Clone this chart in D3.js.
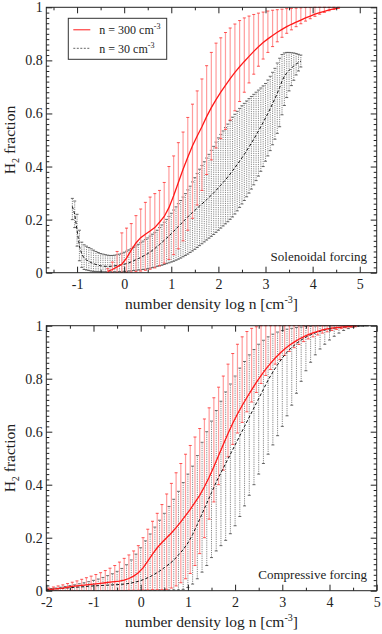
<!DOCTYPE html>
<html>
<head>
<meta charset="utf-8">
<script src="https://cdn.jsdelivr.net/npm/d3@7"></script>
<style>
  body { margin: 0; background: #fff; }
  svg { display: block; }
  text { font-family: 'Liberation Serif', 'Times New Roman', serif; fill: #222; }
</style>
</head>
<body>
<svg id="chart" width="382" height="634"></svg>
<script>
// ---- Solenoidal forcing, n = 300 cm^-3 (bins of 0.1 dex from -0.35) ----
const solLogN300 = d3.range(50).map(i => -0.35 + i * 0.1)
const solMean300 = [
  0.005, 0.012, 0.022, 0.032, 0.055, 0.085, 0.112, 0.132, 0.145, 0.157,
  0.170, 0.190, 0.212, 0.245, 0.290, 0.340, 0.390, 0.435, 0.478, 0.515,
  0.550, 0.588, 0.622, 0.652, 0.680, 0.706, 0.731, 0.755, 0.776, 0.796,
  0.815, 0.834, 0.851, 0.867, 0.881, 0.894, 0.906, 0.917, 0.927, 0.936,
  0.944, 0.952, 0.960, 0.967, 0.974, 0.980, 0.985, 0.990, 0.994, 0.997
]
const solLo300 = [
  0.000, 0.000, 0.000, 0.000, 0.001, 0.002, 0.004, 0.006, 0.009, 0.013,
  0.018, 0.026, 0.036, 0.050, 0.068, 0.090, 0.120, 0.160, 0.205, 0.255,
  0.310, 0.370, 0.425, 0.470, 0.505, 0.540, 0.575, 0.610, 0.645, 0.680,
  0.715, 0.748, 0.778, 0.805, 0.830, 0.852, 0.870, 0.887, 0.902, 0.915,
  0.927, 0.938, 0.948, 0.957, 0.966, 0.974, 0.981, 0.987, 0.992, 0.996
]
const solHi300 = [
  0.015, 0.040, 0.080, 0.150, 0.168, 0.185, 0.215, 0.240, 0.265, 0.285,
  0.298, 0.310, 0.340, 0.400, 0.440, 0.490, 0.530, 0.585, 0.635, 0.685,
  0.730, 0.780, 0.830, 0.865, 0.885, 0.905, 0.922, 0.937, 0.950, 0.960,
  0.967, 0.973, 0.978, 0.982, 0.986, 0.989, 0.991, 0.993, 0.995, 0.996,
  0.997, 0.998, 0.999, 0.999, 1.000, 1.000, 1.000, 1.000, 1.000, 1.000
]

// ---- Solenoidal forcing, n = 30 cm^-3 (bins of 0.05 dex from -1.1) ----
const solLogN30 = d3.range(98).map(i => -1.1 + i * 0.05)
const solMean30 = [
  0.250, 0.220, 0.160, 0.100, 0.070, 0.055, 0.048, 0.043, 0.038, 0.034,
  0.031, 0.028, 0.026, 0.025, 0.024, 0.024, 0.024, 0.025, 0.026, 0.027,
  0.028, 0.030, 0.032, 0.034, 0.037, 0.041, 0.045, 0.049, 0.053, 0.057,
  0.062, 0.067, 0.072, 0.078, 0.084, 0.091, 0.099, 0.106, 0.114, 0.122,
  0.130, 0.138, 0.147, 0.156, 0.165, 0.174, 0.183, 0.192, 0.201, 0.210,
  0.219, 0.227, 0.235, 0.243, 0.251, 0.259, 0.267, 0.275, 0.284, 0.292,
  0.301, 0.310, 0.320, 0.330, 0.340, 0.350, 0.361, 0.372, 0.384, 0.396,
  0.408, 0.420, 0.433, 0.446, 0.460, 0.474, 0.488, 0.503, 0.518, 0.534,
  0.550, 0.566, 0.583, 0.600, 0.618, 0.637, 0.656, 0.676, 0.698, 0.722,
  0.740, 0.752, 0.762, 0.771, 0.779, 0.786, 0.792, 0.797
]
const solLo30 = [
  0.200, 0.170, 0.100, 0.045, 0.020, 0.012, 0.010, 0.008, 0.006, 0.005,
  0.004, 0.004, 0.003, 0.003, 0.003, 0.003, 0.003, 0.003, 0.003, 0.003,
  0.004, 0.004, 0.005, 0.005, 0.006, 0.007, 0.008, 0.009, 0.010, 0.011,
  0.012, 0.013, 0.015, 0.017, 0.019, 0.021, 0.024, 0.026, 0.028, 0.031,
  0.034, 0.037, 0.040, 0.043, 0.047, 0.051, 0.055, 0.060, 0.065, 0.070,
  0.076, 0.082, 0.088, 0.095, 0.102, 0.109, 0.116, 0.123, 0.130, 0.137,
  0.144, 0.152, 0.160, 0.168, 0.176, 0.184, 0.192, 0.201, 0.210, 0.221,
  0.233, 0.246, 0.259, 0.272, 0.286, 0.300, 0.315, 0.331, 0.347, 0.364,
  0.382, 0.400, 0.420, 0.440, 0.460, 0.482, 0.503, 0.525, 0.550, 0.595,
  0.630, 0.660, 0.685, 0.705, 0.725, 0.745, 0.760, 0.775
]
const solHi30 = [
  0.280, 0.270, 0.220, 0.160, 0.115, 0.105, 0.100, 0.095, 0.090, 0.085,
  0.080, 0.076, 0.072, 0.070, 0.068, 0.066, 0.065, 0.065, 0.066, 0.068,
  0.070, 0.073, 0.077, 0.081, 0.086, 0.091, 0.096, 0.101, 0.107, 0.113,
  0.119, 0.125, 0.131, 0.138, 0.145, 0.152, 0.160, 0.170, 0.180, 0.190,
  0.201, 0.212, 0.224, 0.236, 0.248, 0.260, 0.272, 0.285, 0.298, 0.312,
  0.326, 0.342, 0.358, 0.374, 0.390, 0.404, 0.418, 0.432, 0.446, 0.461,
  0.476, 0.492, 0.508, 0.521, 0.534, 0.547, 0.560, 0.573, 0.586, 0.597,
  0.608, 0.619, 0.629, 0.638, 0.647, 0.656, 0.664, 0.672, 0.680, 0.688,
  0.696, 0.704, 0.713, 0.726, 0.740, 0.755, 0.770, 0.790, 0.808, 0.822,
  0.828, 0.830, 0.830, 0.829, 0.828, 0.826, 0.823, 0.820
]

// ---- Compressive forcing, n = 300 cm^-3 (bins of 0.1 dex from -1.95) ----
const compLogN300 = d3.range(66).map(i => -1.95 + i * 0.1)
const compMean300 = [
  0.004, 0.006, 0.008, 0.010, 0.013, 0.016, 0.018, 0.020, 0.022, 0.024,
  0.026, 0.028, 0.030, 0.032, 0.034, 0.036, 0.040, 0.046, 0.055, 0.068,
  0.086, 0.112, 0.138, 0.162, 0.182, 0.200, 0.218, 0.238, 0.260, 0.283,
  0.307, 0.333, 0.360, 0.392, 0.428, 0.468, 0.510, 0.552, 0.593, 0.632,
  0.667, 0.699, 0.729, 0.758, 0.786, 0.812, 0.836, 0.858, 0.878, 0.896,
  0.912, 0.926, 0.938, 0.949, 0.958, 0.966, 0.973, 0.979, 0.984, 0.988,
  0.991, 0.993, 0.995, 0.997, 0.998, 0.999
]
const compLo300 = [
  0.000, 0.000, 0.000, 0.000, 0.000, 0.000, 0.000, 0.000, 0.000, 0.000,
  0.000, 0.000, 0.001, 0.001, 0.001, 0.001, 0.001, 0.002, 0.002, 0.002,
  0.003, 0.003, 0.004, 0.004, 0.004, 0.005, 0.010, 0.018, 0.030, 0.045,
  0.065, 0.095, 0.140, 0.200, 0.270, 0.335, 0.400, 0.455, 0.505, 0.552,
  0.595, 0.635, 0.675, 0.712, 0.748, 0.782, 0.812, 0.835, 0.855, 0.872,
  0.888, 0.903, 0.917, 0.929, 0.940, 0.950, 0.958, 0.965, 0.972, 0.977,
  0.982, 0.986, 0.989, 0.992, 0.994, 0.996
]
const compHi300 = [
  0.010, 0.014, 0.018, 0.022, 0.027, 0.032, 0.037, 0.043, 0.049, 0.055,
  0.061, 0.068, 0.076, 0.085, 0.095, 0.108, 0.122, 0.135, 0.150, 0.170,
  0.200, 0.232, 0.262, 0.292, 0.325, 0.365, 0.405, 0.445, 0.480, 0.515,
  0.548, 0.580, 0.612, 0.648, 0.690, 0.728, 0.768, 0.810, 0.855, 0.895,
  0.930, 0.958, 0.978, 0.990, 0.996, 1.000, 1.000, 1.000, 1.000, 1.000,
  1.000, 1.000, 1.000, 1.000, 1.000, 1.000, 1.000, 1.000, 1.000, 1.000,
  1.000, 1.000, 1.000, 1.000, 1.000, 1.000
]

// ---- Compressive forcing, n = 30 cm^-3 (bins of 0.1 dex from -2.0) ----
const compLogN30 = d3.range(69).map(i => -2.0 + i * 0.1)
const compMean30 = [
  0.003, 0.005, 0.007, 0.008, 0.010, 0.011, 0.013, 0.014, 0.015, 0.017,
  0.018, 0.019, 0.020, 0.021, 0.022, 0.023, 0.024, 0.026, 0.029, 0.033,
  0.038, 0.045, 0.053, 0.063, 0.074, 0.087, 0.100, 0.115, 0.135, 0.155,
  0.180, 0.212, 0.250, 0.290, 0.330, 0.370, 0.410, 0.445, 0.480, 0.515,
  0.550, 0.585, 0.620, 0.655, 0.690, 0.725, 0.760, 0.795, 0.825, 0.853,
  0.878, 0.900, 0.918, 0.933, 0.946, 0.957, 0.966, 0.973, 0.979, 0.984,
  0.988, 0.991, 0.993, 0.995, 0.997, 0.998, 0.999, 0.999, 1.000
]
const compLo30 = [
  0.000, 0.000, 0.000, 0.000, 0.000, 0.000, 0.000, 0.000, 0.000, 0.000,
  0.000, 0.000, 0.000, 0.000, 0.000, 0.000, 0.000, 0.000, 0.000, 0.000,
  0.001, 0.001, 0.001, 0.001, 0.002, 0.002, 0.002, 0.003, 0.003, 0.005,
  0.012, 0.025, 0.045, 0.070, 0.095, 0.125, 0.150, 0.170, 0.190, 0.215,
  0.245, 0.280, 0.320, 0.360, 0.400, 0.440, 0.480, 0.515, 0.550, 0.585,
  0.620, 0.660, 0.700, 0.745, 0.790, 0.830, 0.862, 0.890, 0.912, 0.930,
  0.946, 0.960, 0.972, 0.982, 0.989, 0.994, 0.997, 0.998, 0.999
]
const compHi30 = [
  0.006, 0.008, 0.010, 0.013, 0.016, 0.019, 0.022, 0.026, 0.030, 0.034,
  0.039, 0.044, 0.050, 0.057, 0.064, 0.073, 0.084, 0.098, 0.116, 0.138,
  0.162, 0.188, 0.214, 0.240, 0.266, 0.292, 0.318, 0.345, 0.375, 0.408,
  0.440, 0.470, 0.510, 0.560, 0.600, 0.640, 0.680, 0.715, 0.750, 0.780,
  0.810, 0.840, 0.865, 0.890, 0.910, 0.930, 0.945, 0.958, 0.968, 0.976,
  0.982, 0.987, 0.990, 0.993, 0.995, 0.997, 0.998, 0.999, 1.000, 1.000,
  1.000, 1.000, 1.000, 1.000, 1.000, 1.000, 1.000, 1.000, 1.000
]

const yMajor = [0, 0.2, 0.4, 0.6, 0.8, 1]
const yMinor = d3.range(51).filter(i => i % 10 !== 0).map(i => i / 50)

const svg = d3.select('#chart')
const left = 46.3
const right = 376.7

const redStyle = { bar: '#ff9c9c', barDash: null, barWidth: 1.2, cap: '#ff2a2a', line: '#ff1a1a', lineDash: null, lineWidth: 1.3 }
const blackStyle = { bar: '#7a7a7a', barDash: '1.2,1', barWidth: 0.9, cap: '#444', line: '#111', lineDash: '3,2', lineWidth: 1 }

function drawBars (g, x, y, s) {
  const idx = d3.range(s.logN.length)
  const st = s.style
  g.append('g').selectAll('line').data(idx).join('line')
    .attr('x1', i => x(s.logN[i])).attr('x2', i => x(s.logN[i]))
    .attr('y1', i => y(s.lo[i])).attr('y2', i => y(s.hi[i]))
    .attr('stroke', st.bar).attr('stroke-width', st.barWidth)
    .attr('stroke-dasharray', st.barDash)
  const caps = g.append('g')
  ;['lo', 'hi'].forEach(k => {
    caps.append('g').selectAll('line').data(idx).join('line')
      .attr('x1', i => x(s.logN[i]) - 1.5).attr('x2', i => x(s.logN[i]) + 1.5)
      .attr('y1', i => y(s[k][i])).attr('y2', i => y(s[k][i]))
      .attr('stroke', st.cap).attr('stroke-width', 0.8)
  })
}

function drawLine (g, x, y, s) {
  const line = d3.line().x(i => x(s.logN[i])).y(i => y(s.mean[i]))
  g.append('path').datum(d3.range(s.logN.length))
    .attr('d', line).attr('fill', 'none')
    .attr('stroke', s.style.line).attr('stroke-width', s.style.lineWidth)
    .attr('stroke-dasharray', s.style.lineDash)
}

function drawPanel (p) {
  const x = d3.scaleLinear().domain(p.xDomain).range([left, right])
  const y = d3.scaleLinear().domain([0, 1]).range([p.bottom, p.top])
  const g = svg.append('g')

  g.append('clipPath').attr('id', p.id).append('rect')
    .attr('x', left).attr('y', p.top - 2).attr('width', right - left).attr('height', p.bottom - p.top + 2)
  const plot = g.append('g').attr('clip-path', `url(#${p.id})`)

  p.series.forEach(s => drawBars(plot, x, y, s))
  p.series.forEach(s => drawLine(plot, x, y, s))

  // frame
  g.append('rect').attr('x', left).attr('y', p.top)
    .attr('width', right - left).attr('height', p.bottom - p.top)
    .attr('fill', 'none').attr('stroke', '#222').attr('stroke-width', 1)

  const xMinor = d3.range(-8, 12).map(i => i + 0.5)
    .filter(v => v > p.xDomain[0] && v < p.xDomain[1])
  const tidy = a => {
    a.select('.domain').remove()
    a.attr('color', '#222').attr('font-size', 14)
  }

  g.append('g').attr('transform', `translate(0,${p.bottom})`)
    .call(d3.axisBottom(x).tickValues(p.xTicks).tickSize(-6).tickPadding(6).tickFormat(d => String(d)))
    .call(tidy)
  g.append('g').attr('transform', `translate(0,${p.bottom})`)
    .call(d3.axisBottom(x).tickValues(xMinor).tickSize(-3).tickFormat(''))
    .call(tidy)
  g.append('g').attr('transform', `translate(0,${p.top})`)
    .call(d3.axisTop(x).tickValues(p.xTicks).tickSize(-6).tickFormat(''))
    .call(tidy)
  g.append('g').attr('transform', `translate(0,${p.top})`)
    .call(d3.axisTop(x).tickValues(xMinor).tickSize(-3).tickFormat(''))
    .call(tidy)
  g.append('g').attr('transform', `translate(${left},0)`)
    .call(d3.axisLeft(y).tickValues(yMajor).tickSize(-6).tickPadding(3.5)
      .tickFormat(d => (d === 0 || d === 1) ? String(d) : d.toFixed(1)))
    .call(tidy)
  g.append('g').attr('transform', `translate(${left},0)`)
    .call(d3.axisLeft(y).tickValues(yMinor).tickSize(-3).tickFormat(''))
    .call(tidy)
  g.append('g').attr('transform', `translate(${right},0)`)
    .call(d3.axisRight(y).tickValues(yMajor).tickSize(-6).tickFormat(''))
    .call(tidy)
  g.append('g').attr('transform', `translate(${right},0)`)
    .call(d3.axisRight(y).tickValues(yMinor).tickSize(-3).tickFormat(''))
    .call(tidy)

  // axis titles
  const xt = g.append('text').attr('x', (left + right) / 2).attr('y', p.bottom + 36.5)
    .attr('text-anchor', 'middle').attr('font-size', 15.5)
  xt.append('tspan').text('number density log n [cm')
  xt.append('tspan').attr('dy', -6).attr('font-size', 10).text('-3')
  xt.append('tspan').attr('dy', 6).text(']')

  const yt = g.append('text')
    .attr('transform', `translate(14.5,${(p.top + p.bottom) / 2}) rotate(-90)`)
    .attr('text-anchor', 'middle').attr('font-size', 15.5)
  yt.append('tspan').text('H')
  yt.append('tspan').attr('dy', 4).attr('font-size', 10).text('2')
  yt.append('tspan').attr('dy', -4).text(' fraction')

  g.append('text').attr('x', 367).attr('y', p.bottom - 12)
    .attr('text-anchor', 'end').attr('font-size', 13).text(p.label)

  return { x, y, g }
}

drawPanel({
  id: 'clipSol',
  xDomain: [-1.653, 5.36],
  xTicks: [-1, 0, 1, 2, 3, 4, 5],
  top: 7.3,
  bottom: 272.7,
  label: 'Solenoidal forcing',
  series: [
    { logN: solLogN30, mean: solMean30, lo: solLo30, hi: solHi30, style: blackStyle },
    { logN: solLogN300, mean: solMean300, lo: solLo300, hi: solHi300, style: redStyle }
  ]
})

drawPanel({
  id: 'clipComp',
  xDomain: [-2, 5],
  xTicks: [-2, -1, 0, 1, 2, 3, 4, 5],
  top: 325.7,
  bottom: 590.7,
  label: 'Compressive forcing',
  series: [
    { logN: compLogN30, mean: compMean30, lo: compLo30, hi: compHi30, style: blackStyle },
    { logN: compLogN300, mean: compMean300, lo: compLo300, hi: compHi300, style: redStyle }
  ]
})

// legend (top panel)
const legend = svg.append('g').attr('transform', 'translate(68.3,18.3)')
legend.append('rect').attr('width', 98.4).attr('height', 41)
  .attr('fill', '#fff').attr('stroke', '#333').attr('stroke-width', 1)
const legendItems = [
  { label: 'n = 300 cm', style: redStyle },
  { label: 'n = 30 cm', style: blackStyle }
]
legendItems.forEach((it, i) => {
  const row = legend.append('g').attr('transform', `translate(0,${11.5 + i * 18.5})`)
  row.append('line').attr('x1', 5).attr('x2', 22)
    .attr('stroke', i === 0 ? it.style.line : '#666').attr('stroke-width', 1)
    .attr('stroke-dasharray', i === 0 ? null : '2,1.5')
  const t = row.append('text').attr('x', 31).attr('y', 4.5).attr('font-size', 12)
  t.append('tspan').text(it.label)
  t.append('tspan').attr('dy', -5).attr('font-size', 8).text('-3')
})
</script>
</body>
</html>
